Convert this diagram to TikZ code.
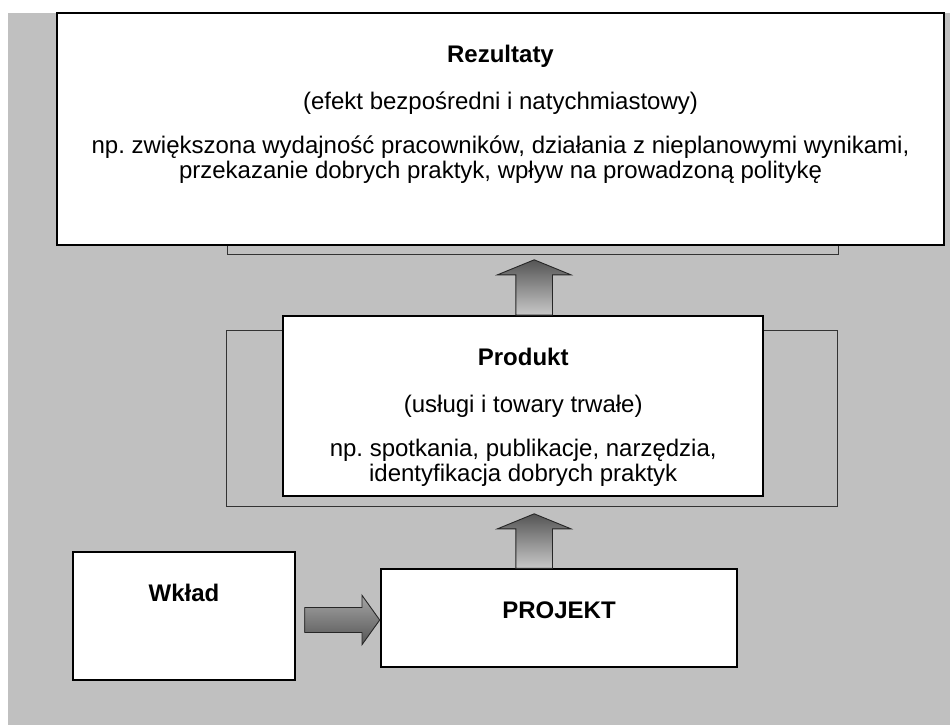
\documentclass[tikz,border=0pt]{standalone}
\usepackage{fontspec}
\setmainfont{Liberation Sans}
\usetikzlibrary{positioning,calc}
\frenchspacing

\definecolor{bggray}{RGB}{192,192,192}
\definecolor{arrowdark}{RGB}{85,85,85}
\definecolor{arrowlight}{RGB}{200,200,200}
\definecolor{arrowmid}{RGB}{165,165,165}

\tikzset{
  box/.style={draw=black, line width=2pt, fill=white, rectangle, inner sep=0pt},
  backbox/.style={draw=black!80, line width=1pt, fill=bggray, rectangle, inner sep=0pt},
  boxtext/.style={align=center, inner sep=0pt, font=\fontsize{24}{25}\selectfont},
  upfill/.style={draw=black!85, line width=0.9pt, top color=arrowdark, bottom color=arrowlight},
  rightfill/.style={draw=black!85, line width=0.9pt, top color=arrowmid, bottom color=arrowdark},
}

% block arrow pointing up: #1 tail, #2 tip
\newcommand{\upblock}[2]{%
  \shade[upfill] ($(#1)+(-18.3,0)$) -- ($(#2)+(-18.3,15)$) -- ($(#2)+(-36.7,15)$) -- (#2)
    -- ($(#2)+(36.7,15)$) -- ($(#2)+(18.3,15)$) -- ($(#1)+(18.3,0)$) -- cycle;}
% block arrow pointing right: #1 tail, #2 tip
\newcommand{\rightblock}[2]{%
  \shade[rightfill] ($(#1)+(0,-12.5)$) -- ($(#2)+(-17.7,-12.5)$) -- ($(#2)+(-17.7,-24.7)$) -- (#2)
    -- ($(#2)+(-17.7,24.7)$) -- ($(#2)+(-17.7,12.5)$) -- ($(#1)+(0,12.5)$) -- cycle;}

\begin{document}
\begin{tikzpicture}[x=1pt,y=-1pt]
  \useasboundingbox (0,0) rectangle (950,725);
  \fill[bggray] (8,12.7) rectangle (950,725);

  % frames behind the boxes
  \node[backbox, minimum width=611pt, minimum height=104pt] (rezback) at (532.5,202) {};
  \node[backbox, minimum width=611.3pt, minimum height=176pt] (prodback) at (532,418) {};

  % boxes
  \node[box, minimum width=887.6pt, minimum height=232.6pt] (rez) at (500.5,129) {};
  \node[box, minimum width=480.3pt, minimum height=180pt] (prod) at (523.2,406) {};
  \node[box, minimum width=222.6pt, minimum height=128.6pt] (wklad) at (184,616) {};
  \node[box, minimum width=356.6pt, minimum height=98pt] (proj) at (559,618.3) {};

  \node[boxtext, below=33pt of rez.north] (reztxt) {\textbf{Rezultaty}\\[22pt]
    (efekt bezpośredni i natychmiastowy)\\[19pt]
    np. zwiększona wydajność pracowników, działania z nieplanowymi wynikami,\\
    przekazanie dobrych praktyk, wpływ na prowadzoną politykę};
  \node[boxtext, below=33pt of prod.north] (prodtxt) {\textbf{Produkt}\\[22pt]
    (usługi i towary trwałe)\\[19pt]
    np. spotkania, publikacje, narzędzia,\\
    identyfikacja dobrych praktyk};
  \node[boxtext, below=33pt of wklad.north] (wkladtxt) {\textbf{Wkład}};
  \node[boxtext, below=33pt of proj.north] (projtxt) {\textbf{PROJEKT}};

  % arrows
  \coordinate (ax) at (534.2,0);
  \coordinate (tip1) at ($(ax |- rezback.south)+(0,5.3)$);
  \coordinate (tip2) at ($(ax |- prodback.south)+(0,7.3)$);
  \coordinate (tip3) at ($(proj.west)+(0,1.7)$);
  \upblock{ax |- prod.north}{tip1}
  \upblock{ax |- proj.north}{tip2}
  \rightblock{$(wklad.east |- tip3)+(8.4,0)$}{tip3}
\end{tikzpicture}
\end{document}
